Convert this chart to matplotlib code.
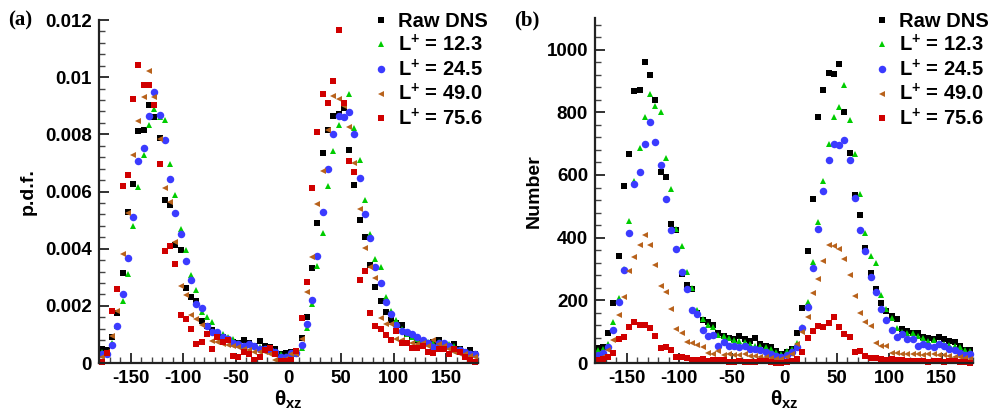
import numpy as np
import matplotlib
matplotlib.use("Agg")
import matplotlib.pyplot as plt
from matplotlib.ticker import MultipleLocator, FixedLocator

# bin centres of theta_xz, 5 degree bins
theta = np.arange(-177.5, 180, 5.0)

series_labels = ["Raw DNS", "L$^{+}$ = 12.3", "L$^{+}$ = 24.5", "L$^{+}$ = 49.0", "L$^{+}$ = 75.6"]

# (a) p.d.f.
pdf_raw = [0.0005, 0.00045, 0.00091, 0.00176, 0.00315, 0.0053, 0.00627, 0.00813, 0.00816, 0.00904,
           0.0086, 0.00787, 0.00571, 0.00554, 0.00414, 0.00395, 0.00264, 0.00232, 0.00218, 0.00148,
           0.0013, 0.00115, 0.001, 0.0009, 0.0008, 0.00075, 0.0007, 0.0008, 0.0007, 0.0006,
           0.00076, 0.0006, 0.00055, 0.00048, 0.0003, 0.00035, 0.00038, 0.0004, 0.00089, 0.00162,
           0.00332, 0.00491, 0.00736, 0.00816, 0.00865, 0.0087, 0.00892, 0.00746, 0.00624, 0.005,
           0.00442, 0.00343, 0.00267, 0.00218, 0.0018, 0.0015, 0.0014, 0.00133, 0.001, 0.0009,
           0.0008, 0.00078, 0.0007, 0.00075, 0.0008, 0.0006, 0.0006, 0.00065, 0.0005, 0.0004,
           0.00045, 0.0003]
pdf_l12 = [0.0004, 0.0003, 0.0007, 0.0013, 0.00217, 0.00313, 0.0048, 0.00616, 0.00727, 0.00834,
           0.0089, 0.0086, 0.00849, 0.00695, 0.00588, 0.0047, 0.00395, 0.00307, 0.00255, 0.00177,
           0.0016, 0.00142, 0.0011, 0.001, 0.0009, 0.00083, 0.0007, 0.0006, 0.00065, 0.0006,
           0.00055, 0.0005, 0.00045, 0.0004, 0.0003, 0.00025, 0.0003, 0.0003, 0.00051, 0.00121,
           0.00205, 0.0034, 0.00456, 0.0062, 0.00742, 0.00833, 0.0086, 0.00941, 0.00823, 0.00709,
           0.00571, 0.0045, 0.00363, 0.00337, 0.0023, 0.00182, 0.0015, 0.0012, 0.001, 0.0009,
           0.00085, 0.0008, 0.00075, 0.0007, 0.00075, 0.0007, 0.00065, 0.0006, 0.0005, 0.0004,
           0.00035, 0.0003]
pdf_l24 = [0.0003, 0.0003, 0.00062, 0.00129, 0.00241, 0.00367, 0.00511, 0.00707, 0.00753, 0.00865,
           0.00949, 0.00868, 0.0078, 0.00645, 0.00524, 0.0045, 0.00357, 0.0029, 0.00206, 0.00191,
           0.00129, 0.0011, 0.0011, 0.0009, 0.00083, 0.0007, 0.00065, 0.0006, 0.00065, 0.0006,
           0.00049, 0.0005, 0.00045, 0.0004, 0.00022, 0.0002, 0.00034, 0.00035, 0.00063, 0.00135,
           0.0022, 0.00375, 0.00527, 0.00679, 0.008, 0.00864, 0.00862, 0.00879, 0.008, 0.00646,
           0.00522, 0.00438, 0.00337, 0.00281, 0.00213, 0.0017, 0.00133, 0.00112, 0.0011, 0.001,
           0.0009, 0.0008, 0.0007, 0.00055, 0.0007, 0.0007, 0.0006, 0.0005, 0.00045, 0.0004,
           0.0003, 0.0003]
pdf_l49 = [0.0002, 0.0004, 0.00094, 0.00183, 0.00382, 0.00525, 0.00728, 0.00846, 0.00932, 0.0102,
           0.00932, 0.00783, 0.00611, 0.00563, 0.00424, 0.0027, 0.00239, 0.00169, 0.00153, 0.00132,
           0.001, 0.00076, 0.00072, 0.00065, 0.00062, 0.0006, 0.00055, 0.00048, 0.00045, 0.0004,
           0.0004, 0.0004, 0.0003, 0.0001, 0.0001, 0.00015, 0.0003, 0.0003, 0.00083, 0.00249,
           0.0037, 0.00556, 0.0067, 0.00815, 0.00934, 0.00925, 0.009, 0.00827, 0.007, 0.00539,
           0.00403, 0.00335, 0.00298, 0.00159, 0.00135, 0.00135, 0.00085, 0.0008, 0.0007, 0.0007,
           0.00065, 0.0007, 0.0006, 0.0008, 0.00065, 0.0006, 0.0005, 0.0004, 0.0003, 0.0003,
           0.00025, 0.0002]
pdf_l75 = [0.00005, 0.00036, 0.00182, 0.0026, 0.0062, 0.00658, 0.00924, 0.01043, 0.00974, 0.00974,
           0.00904, 0.00696, 0.00392, 0.0041, 0.00347, 0.00168, 0.00153, 0.0012, 0.00068, 0.00075,
           0.00101, 0.0005, 0.00091, 0.00072, 0.0008, 0.00024, 0.0002, 0.00037, 0.0003, 0.0001,
           0.0002, 0.00045, 0.00051, 0.0003, 0.00006, 0.00006, 0.0001, 0.00043, 0.00159, 0.00284,
           0.00613, 0.00809, 0.00942, 0.00911, 0.00987, 0.01165, 0.00911, 0.00708, 0.00669, 0.0029,
           0.00323, 0.00176, 0.0013, 0.00118, 0.00098, 0.0008, 0.00113, 0.00069, 0.00069, 0.00051,
           0.00051, 0.00058, 0.0004, 0.00035, 0.0005, 0.0005, 0.0003, 0.0005, 0.0004, 0.0002,
           0.0001, 0.00005]

# (b) Number
num_raw = [49, 50, 97, 191, 340, 566, 668, 867, 870, 962, 918, 840, 611, 593, 442, 425, 283, 249,
           235, 160, 138, 130, 120, 95, 85, 80, 75, 86, 75, 70, 81, 62, 55, 50, 38, 30, 35, 46,
           97, 175, 359, 524, 784, 870, 924, 921, 953, 800, 669, 535, 471, 366, 287, 235, 193, 166,
           150, 141, 110, 102, 96, 96, 83, 80, 75, 84, 78, 70, 66, 55, 40, 42]
num_l12 = [40, 45, 60, 130, 207, 300, 453, 581, 685, 785, 858, 819, 800, 655, 554, 429, 374, 290,
           239, 170, 140, 120, 115, 90, 85, 80, 72, 70, 68, 60, 55, 55, 50, 45, 35, 30, 38, 45,
           65, 116, 196, 322, 450, 581, 699, 784, 818, 886, 776, 668, 540, 414, 340, 318, 217, 172,
           143, 111, 100, 95, 95, 85, 80, 70, 72, 65, 60, 58, 55, 50, 40, 38]
num_l24 = [26, 33, 52, 105, 196, 297, 414, 572, 610, 700, 769, 704, 632, 523, 423, 364, 290, 236,
           169, 156, 105, 86, 89, 55, 68, 55, 55, 50, 55, 45, 45, 42, 35, 30, 22, 18, 25, 35,
           52, 111, 180, 303, 427, 550, 648, 700, 697, 712, 648, 526, 423, 356, 274, 226, 172, 137,
           105, 84, 92, 76, 76, 54, 60, 55, 50, 60, 55, 45, 40, 33, 25, 30]
num_l49 = [10, 20, 43, 73, 153, 210, 295, 338, 375, 409, 375, 313, 246, 226, 172, 109, 95, 68,
           63, 57, 50, 31, 29, 38, 25, 28, 27, 25, 28, 22, 22, 20, 18, 15, 12, 12, 20, 30,
           62, 100, 148, 223, 268, 327, 377, 374, 363, 332, 281, 215, 161, 132, 119, 63, 55, 54,
           32, 32, 30, 30, 28, 30, 25, 28, 30, 25, 27, 22, 20, 18, 15, 12]
num_l75 = [8, 13, 20, 33, 77, 84, 116, 132, 121, 121, 113, 87, 49, 52, 42, 20, 18, 15,
           10, 10, 12, 7, 10, 8, 9, 3, 3, 5, 4, 2, 3, 6, 7, 4, 1, 1, 2, 6,
           14, 36, 79, 103, 119, 116, 127, 148, 116, 92, 84, 36, 39, 22, 16, 15, 12, 10,
           14, 9, 9, 7, 7, 7, 5, 4, 6, 6, 4, 6, 5, 3, 2, 1]

x_ticks = [-150, -100, -50, 0, 50, 100, 150]
pdf_ticks = [0, 0.002, 0.004, 0.006, 0.008, 0.01, 0.012]
pdf_ticklabels = ["0", "0.002", "0.004", "0.006", "0.008", "0.01", "0.012"]
num_ticks = [0, 200, 400, 600, 800, 1000]

styles = [
    dict(marker="s", color="#000000", ms=4.3),
    dict(marker="^", color="#00cc00", ms=4.4),
    dict(marker="o", color="#3b3bff", ms=5.4),
    dict(marker="<", color="#b8621c", ms=4.4),
    dict(marker="s", color="#d00000", ms=4.3),
]

plt.rcParams["font.family"] = ["Liberation Sans", "DejaVu Sans"]
plt.rcParams["font.weight"] = "bold"
plt.rcParams["axes.unicode_minus"] = False
plt.rcParams["mathtext.fontset"] = "custom"
plt.rcParams["mathtext.rm"] = "Liberation Sans:bold"
plt.rcParams["mathtext.bf"] = "Liberation Sans:bold"
plt.rcParams["mathtext.it"] = "Liberation Sans"

W, H = 1007, 412
fig = plt.figure(figsize=(W / 100, H / 100), dpi=100)

ax1 = fig.add_axes([99 / W, 1 - 363 / H, 379 / W, 343 / H])
ax2 = fig.add_axes([595 / W, 1 - 363 / H, 378 / W, 344.7 / H])


def style_axes(ax):
    for s in ["top", "right"]:
        ax.spines[s].set_visible(False)
    for s in ["left", "bottom"]:
        ax.spines[s].set_linewidth(1.6)
        ax.spines[s].set_color("#222222")
    ax.set_xlim(-180, 180)
    ax.xaxis.set_major_locator(FixedLocator(x_ticks))
    ax.xaxis.set_minor_locator(MultipleLocator(10))
    ax.tick_params(which="major", direction="in", length=7, width=1.3, labelsize=13.5, pad=5, colors="#222222")
    ax.tick_params(which="minor", direction="in", length=4, width=1.0, colors="#444444")
    for lab in ax.get_xticklabels() + ax.get_yticklabels():
        lab.set_fontweight("bold")
        lab.set_color("black")
    ax.set_xlabel(r"$\theta_{\mathbf{xz}}$", fontsize=15, labelpad=1)


datasets1 = [pdf_raw, pdf_l12, pdf_l24, pdf_l49, pdf_l75]
datasets2 = [num_raw, num_l12, num_l24, num_l49, num_l75]

for ax, data in [(ax1, datasets1), (ax2, datasets2)]:
    for vals, st, lab in zip(data, styles, series_labels):
        ax.plot(theta, vals, linestyle="none", marker=st["marker"], color=st["color"],
                markersize=st["ms"], markeredgewidth=0, label=lab, clip_on=False)

ax1.set_ylim(0, 0.012)
ax1.yaxis.set_major_locator(FixedLocator(pdf_ticks))
ax1.set_yticklabels(pdf_ticklabels)
ax1.yaxis.set_minor_locator(MultipleLocator(0.0004))
ax1.set_ylabel("p.d.f.", fontsize=14, fontweight="bold", labelpad=6)

ax2.set_ylim(0, 1100)
ax2.yaxis.set_major_locator(FixedLocator(num_ticks))
ax2.yaxis.set_minor_locator(MultipleLocator(40))
ax2.set_ylabel("Number", fontsize=14, fontweight="bold", labelpad=3)

style_axes(ax1)
style_axes(ax2)

for ax, lx in [(ax1, 372.7), (ax2, 873.7)]:
    ax.legend(loc="upper left", bbox_to_anchor=(lx / W, 1 - 12 / H), bbox_transform=fig.transFigure,
              frameon=False, handlelength=0.8, handletextpad=0.45,
              labelspacing=0.16, borderpad=0, borderaxespad=0, markerscale=1.0,
              prop={"weight": "bold", "size": 14.5})

fig.text(8 / W, 1 - 20 / H, "(a)", fontsize=15, fontweight="bold", family="Liberation Serif",
         va="center", ha="left")
fig.text(514 / W, 1 - 20 / H, "(b)", fontsize=15, fontweight="bold", family="Liberation Serif",
         va="center", ha="left")

fig.savefig("out.png", dpi=100)
